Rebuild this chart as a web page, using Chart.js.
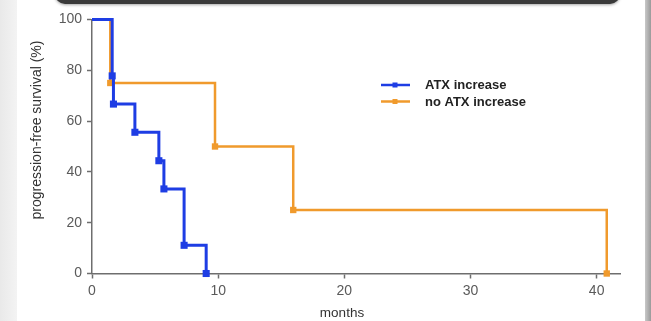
<!DOCTYPE html>
<html>
<head>
<meta charset="utf-8">
<script src="https://cdn.jsdelivr.net/npm/chart.js@4"></script>
<style>
  html, body { margin: 0; padding: 0; background: #fff; }
  #wrap { position: relative; width: 651px; height: 321px; overflow: hidden; background: #fff; }
  #leftShade { position: absolute; left: 0; top: 0; width: 17px; height: 321px;
    background: linear-gradient(to right, #e9e9e9, #f3f3f3); }
  #rightShade { position: absolute; right: 0; top: 0; width: 6px; height: 321px;
    background: linear-gradient(to right, #c8c8c8, #9a9a9a); }
  #topBar { position: absolute; left: 55px; top: -8px; width: 565px; height: 12px;
    background: #3a3a3a; border-radius: 0 0 10px 10px; box-shadow: 0 1px 3px rgba(0,0,0,0.35); }
  canvas { position: absolute; left: 0; top: 0; }
</style>
</head>
<body>
<div id="wrap">
  <div id="leftShade"></div>
  <div id="rightShade"></div>
  <div id="topBar"></div>
  <canvas id="chart" width="651" height="321"></canvas>
</div>
<script>
// Kaplan-Meier steps
const atxMonths = [0, 1.6, 1.7, 3.4, 5.3, 5.7, 7.3, 9.05];
const atxSurvival = [100, 77.8, 66.7, 55.6, 44.4, 33.3, 11.1, 0];
const noAtxMonths = [0, 1.45, 9.75, 15.95, 40.8];
const noAtxSurvival = [100, 75, 50, 25, 0];
const xTicks = [0, 10, 20, 30, 40];
const yTicks = [0, 20, 40, 60, 80, 100];
const seriesNames = ["ATX increase", "no ATX increase"];

const blue = "#1e3de4";
const orange = "#f09a2c";
const axisColor = "#6e6e6e";
const font = "'Liberation Sans', Arial, sans-serif";

function toPoints(xs, ys) {
  return xs.map((x, i) => ({x: x, y: ys[i]}));
}

// legend + axis titles drawn by hand so they sit where the original has them
const extras = {
  id: "extras",
  afterDraw(chart) {
    const ctx = chart.ctx;
    ctx.save();
    const rows = [
      {label: seriesNames[0], color: blue, y: 85},
      {label: seriesNames[1], color: orange, y: 101.5}
    ];
    rows.forEach(r => {
      ctx.strokeStyle = r.color;
      ctx.lineWidth = 2.5;
      ctx.beginPath();
      ctx.moveTo(381, r.y);
      ctx.lineTo(410, r.y);
      ctx.stroke();
      ctx.fillStyle = r.color;
      ctx.fillRect(392.5, r.y - 2.5, 5, 5);
      ctx.fillStyle = "#222";
      ctx.font = "bold 13px " + font;
      ctx.textBaseline = "middle";
      ctx.textAlign = "left";
      ctx.fillText(r.label, 425, r.y + 0.5);
    });

    ctx.fillStyle = "#333";
    ctx.font = "13.5px " + font;
    ctx.textAlign = "center";
    ctx.textBaseline = "middle";
    ctx.fillText("months", 342, 313);

    ctx.font = "14px " + font;
    ctx.translate(37.5, 130);
    ctx.rotate(-Math.PI / 2);
    ctx.fillText("progression-free survival (%)", 0, 0);
    ctx.restore();
  }
};

new Chart(document.getElementById("chart"), {
  type: "line",
  data: {
    datasets: [
      {
        label: seriesNames[0],
        data: toPoints(atxMonths, atxSurvival),
        borderColor: blue,
        backgroundColor: blue,
        borderWidth: 3,
        stepped: true,
        pointStyle: "rect",
        pointRadius: atxMonths.map((m, i) => i === 0 ? 0 : 5),
        pointBorderWidth: 0,
        clip: false
      },
      {
        label: seriesNames[1],
        data: toPoints(noAtxMonths, noAtxSurvival),
        borderColor: orange,
        backgroundColor: orange,
        borderWidth: 2.5,
        stepped: true,
        pointStyle: "rect",
        pointRadius: noAtxMonths.map((m, i) => i === 0 ? 0 : 4.5),
        pointBorderWidth: 0,
        clip: false
      }
    ]
  },
  options: {
    animation: false,
    responsive: false,
    layout: {padding: {left: 0, top: 19.5, right: 31, bottom: 0}},
    scales: {
      x: {
        type: "linear",
        min: 0,
        max: 41.85,
        afterFit: s => { s.height = 47.5; },
        afterBuildTicks: s => { s.ticks = xTicks.map(v => ({value: v})); },
        border: {color: axisColor, width: 1.5},
        grid: {drawOnChartArea: false, drawTicks: true, tickLength: 5, color: axisColor, tickWidth: 1.5},
        ticks: {color: "#5a5a5a", padding: 4, font: {family: font, size: 14}}
      },
      y: {
        min: 0,
        max: 100,
        afterFit: s => { s.width = 92; },
        afterBuildTicks: s => { s.ticks = yTicks.map(v => ({value: v})); },
        border: {color: axisColor, width: 1.5},
        grid: {drawOnChartArea: false, drawTicks: true, tickLength: 5, color: axisColor, tickWidth: 1.5},
        ticks: {color: "#5a5a5a", padding: 5, font: {family: font, size: 14}}
      }
    },
    plugins: {
      legend: {display: false},
      tooltip: {enabled: false}
    }
  },
  plugins: [extras]
});
</script>
</body>
</html>
